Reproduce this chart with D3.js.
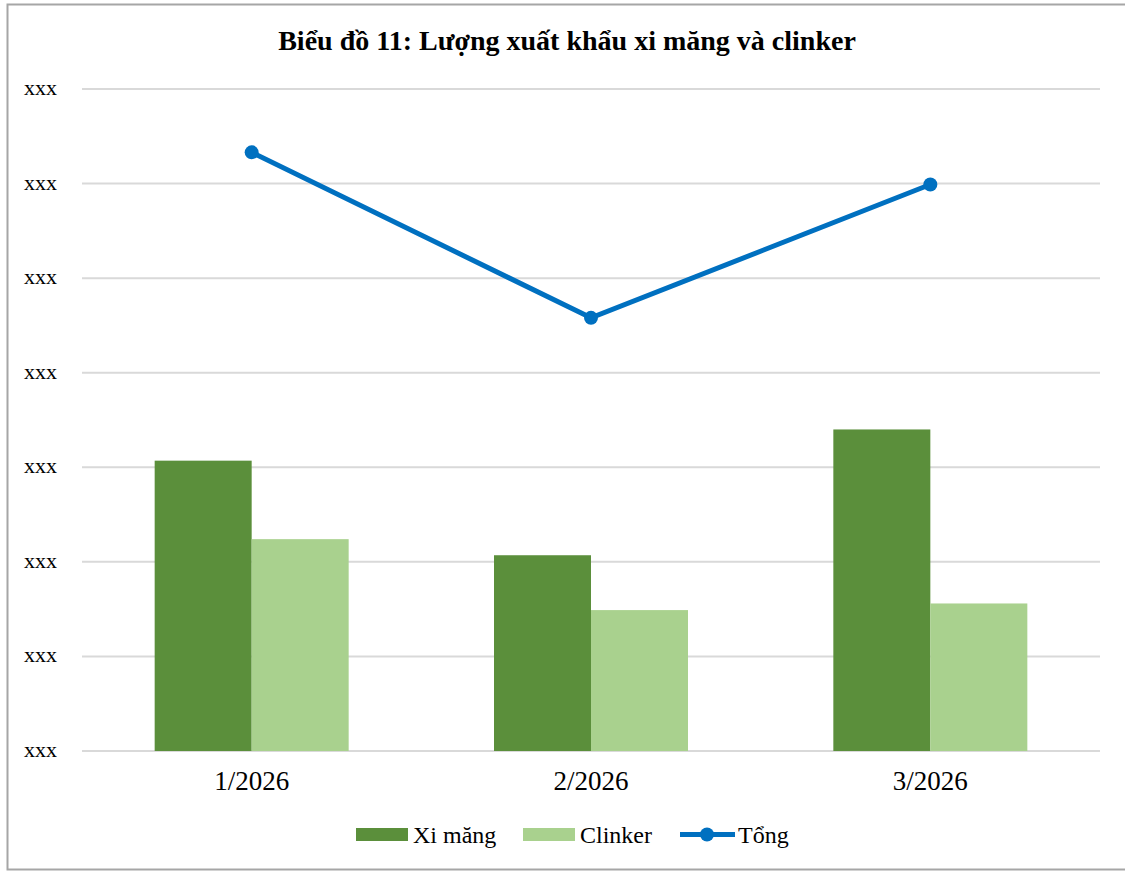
<!DOCTYPE html>
<html>
<head>
<meta charset="utf-8">
<script src="https://cdn.jsdelivr.net/npm/d3@7"></script>
<style>
  body { margin: 0; background: #fff; }
  svg { display: block; }
</style>
</head>
<body>
<div id="chart"></div>
<script>
// values (the y axis labels are masked as "xxx")
const months = ['1/2026', '2/2026', '3/2026'];
const ximang = [3.07, 2.07, 3.40];
const clinker = [2.24, 1.49, 1.56];
const tong = [6.33, 4.58, 5.99];
const yTicks = [0, 1, 2, 3, 4, 5, 6, 7];
const yTickLabel = 'xxx';

const W = 1125, H = 872;
const font = '"Liberation Serif", "DejaVu Serif", serif';

const svg = d3.select('#chart').append('svg')
    .attr('width', W)
    .attr('height', H);

// outer frame
svg.append('rect')
    .attr('x', 7.5).attr('y', 4.5)
    .attr('width', W + 10).attr('height', 865)
    .attr('fill', 'none')
    .attr('stroke', '#a6a6a6')
    .attr('stroke-width', 2);

svg.append('text')
    .attr('x', 567).attr('y', 50)
    .attr('text-anchor', 'middle')
    .attr('font-family', font)
    .attr('font-weight', 'bold')
    .attr('font-size', 28)
    .attr('fill', '#000')
    .text('Biểu đồ 11: Lượng xuất khẩu xi măng và clinker');

const plot = { left: 82, right: 1100, top: 89, bottom: 751 };

const x = d3.scaleBand()
    .domain(months)
    .range([plot.left, plot.right]);

const y = d3.scaleLinear()
    .domain([0, 7])
    .range([plot.bottom, plot.top]);

// gridlines
svg.append('g')
    .selectAll('line')
    .data(yTicks)
    .join('line')
    .attr('x1', plot.left).attr('x2', plot.right)
    .attr('y1', d => y(d)).attr('y2', d => y(d))
    .attr('stroke', '#d9d9d9')
    .attr('stroke-width', 2);

// y labels
svg.append('g')
    .selectAll('text')
    .data(yTicks)
    .join('text')
    .attr('x', 24)
    .attr('y', d => y(d) + 6)
    .attr('font-family', font)
    .attr('font-size', 22)
    .attr('fill', '#000')
    .text(yTickLabel);

// bars
const barW = 97;
const series = [
    { name: 'Xi măng', values: ximang, color: '#5b8f3b', off: -barW },
    { name: 'Clinker', values: clinker, color: '#a9d18e', off: 0 }
];

series.forEach(s => {
    svg.append('g')
        .selectAll('rect')
        .data(s.values)
        .join('rect')
        .attr('x', (d, i) => x(months[i]) + x.bandwidth() / 2 + s.off)
        .attr('y', d => y(d))
        .attr('width', barW)
        .attr('height', d => y(0) - y(d))
        .attr('fill', s.color);
});

// total line
const cx = (d, i) => x(months[i]) + x.bandwidth() / 2;
svg.append('path')
    .datum(tong)
    .attr('d', d3.line().x(cx).y(d => y(d)))
    .attr('fill', 'none')
    .attr('stroke', '#0070c0')
    .attr('stroke-width', 5);

svg.append('g')
    .selectAll('circle')
    .data(tong)
    .join('circle')
    .attr('cx', cx)
    .attr('cy', d => y(d))
    .attr('r', 7)
    .attr('fill', '#0070c0');

// x labels
svg.append('g')
    .selectAll('text')
    .data(months)
    .join('text')
    .attr('x', d => x(d) + x.bandwidth() / 2)
    .attr('y', 790)
    .attr('text-anchor', 'middle')
    .attr('font-family', font)
    .attr('font-size', 27)
    .attr('fill', '#000')
    .text(d => d);

// legend
const lg = svg.append('g').attr('font-family', font).attr('font-size', 24).attr('fill', '#000');
lg.append('rect').attr('x', 356).attr('y', 828).attr('width', 52).attr('height', 13).attr('fill', '#5b8f3b');
lg.append('text').attr('x', 413).attr('y', 843).text('Xi măng');
lg.append('rect').attr('x', 523).attr('y', 828).attr('width', 52).attr('height', 13).attr('fill', '#a9d18e');
lg.append('text').attr('x', 580).attr('y', 843).text('Clinker');
lg.append('line').attr('x1', 680).attr('x2', 735).attr('y1', 834.5).attr('y2', 834.5)
    .attr('stroke', '#0070c0').attr('stroke-width', 5);
lg.append('circle').attr('cx', 707).attr('cy', 834.5).attr('r', 7).attr('fill', '#0070c0');
lg.append('text').attr('x', 738).attr('y', 843).text('Tổng');
</script>
</body>
</html>
